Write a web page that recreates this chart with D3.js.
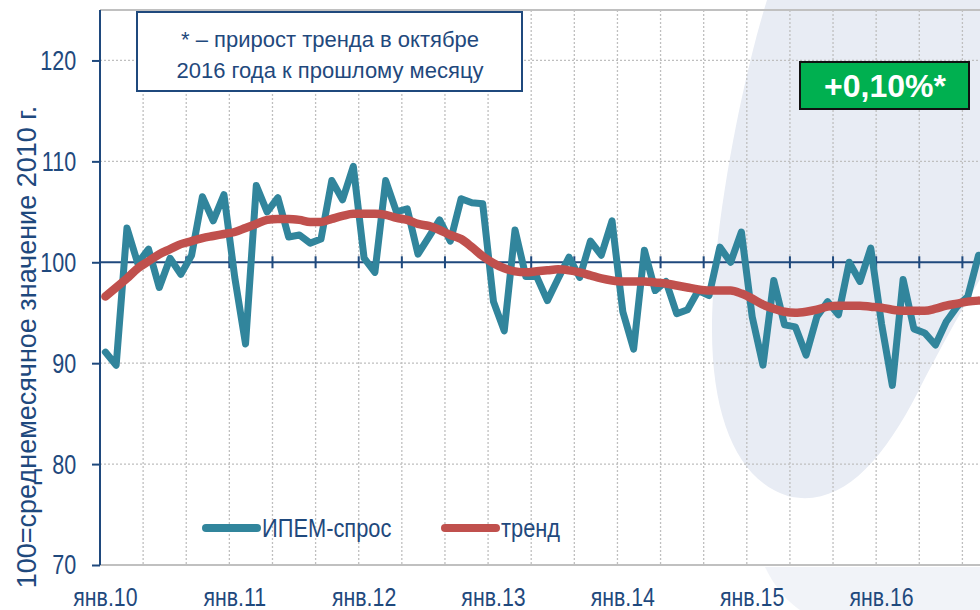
<!DOCTYPE html>
<html>
<head>
<meta charset="utf-8">
<script src="https://cdn.jsdelivr.net/npm/d3@7"></script>
<style>
  body { margin: 0; background: #fff; }
  text { font-family: "Liberation Sans", Arial, sans-serif; fill: #1f497d; }
</style>
</head>
<body>
<svg id="chart" width="980" height="610"></svg>
<script>
// months 01.2010 - 10.2016
const monthNames = ['янв', 'фев', 'мар', 'апр', 'май', 'июн', 'июл', 'авг', 'сен', 'окт', 'ноя', 'дек'];
const months = [];
for (let yr = 10; yr <= 16; yr++) {
  for (let m = 0; m < 12; m++) {
    if (yr === 16 && m > 9) break;
    months.push(monthNames[m] + '.' + yr);
  }
}

// ИПЕМ-спрос
const demand = [
  91.1, 89.8, 103.4, 99.9, 101.3, 97.5, 100.4, 98.8, 100.7, 106.5, 104.1, 106.7,
  98.5, 91.9, 107.6, 105.0, 106.4, 102.5, 102.7, 101.9, 102.3, 108.1, 106.2, 109.5,
  100.4, 99.0, 108.1, 105.0, 105.3, 100.8, 102.5, 104.2, 102.1, 106.3, 105.9, 105.8,
  96.1, 93.2, 103.2, 98.6, 98.6, 96.2, 98.4, 100.5, 98.5, 102.1, 100.7, 104.1,
  95.1, 91.4, 101.2, 97.2, 98.1, 94.9, 95.3, 97.2, 96.7, 101.5, 100.0, 103.0,
  94.6, 89.8, 98.2, 93.8, 93.6, 90.8, 94.6, 96.1, 94.8, 100.0, 98.1, 101.4,
  93.9, 87.8, 98.3, 93.4, 93.0, 91.8, 94.1, 95.6, 96.6, 100.7
];

// тренд
const trend = [
  96.6, 97.5, 98.4, 99.4, 100.1, 100.8, 101.3, 101.8, 102.1, 102.4, 102.6, 102.8,
  103.0, 103.4, 103.8, 104.2, 104.3, 104.3, 104.2, 104.0, 104.0, 104.3, 104.6, 104.8,
  104.8, 104.8, 104.7, 104.4, 104.2, 103.8, 103.6, 103.2, 102.7, 102.3, 101.5, 100.6,
  99.9, 99.4, 99.1, 99.0, 99.1, 99.2, 99.3, 99.2, 99.0, 98.7, 98.4, 98.2,
  98.1, 98.1, 98.1, 98.0, 97.9, 97.7, 97.5, 97.3, 97.2, 97.2, 97.2, 96.9,
  96.4, 95.8, 95.4, 95.1, 95.0, 95.1, 95.3, 95.6, 95.7, 95.7, 95.7, 95.6,
  95.5, 95.3, 95.2, 95.2, 95.2, 95.4, 95.7, 95.9, 96.1, 96.2
];

const yTicks = [70, 80, 90, 100, 110, 120];
const seriesNames = ['ИПЕМ-спрос', 'тренд'];
const noteLines = ['* – прирост тренда в октябре', '2016 года к прошлому месяцу'];
const badge = '+0,10%*';

const svg = d3.select('#chart');
const plotLeft = 100, plotTop = 10, plotBottom = 565;
const step = 10.78;

const x = d3.scaleBand()
  .domain(months)
  .range([plotLeft, plotLeft + months.length * step])
  .padding(0);

const y = d3.scaleLinear()
  .domain([70, 125])
  .range([plotBottom, plotTop]);

const teal = '#31859c';
const red = '#c0504d';
const navy = '#1f497d';

// watermark in the background
svg.append('path')
   .attr('d', 'M767,0 C742,80 712,230 712,330 C712,425 742,485 792,497 C842,506 882,462 918,392 C945,338 968,300 990,262 L990,0 Z')
   .attr('fill', '#e8ecf4');
svg.append('path')
   .attr('d', 'M765,567 C775,588 788,602 800,610 L980,610 L980,567 Z')
   .attr('fill', '#f1f3f8');

// grid
const gridX = months.filter((d, i) => i > 0 && i % 4 === 0);
svg.append('g')
   .selectAll('line')
   .data(gridX)
   .join('line')
   .attr('x1', d => x(d)).attr('x2', d => x(d))
   .attr('y1', plotTop).attr('y2', plotBottom)
   .attr('stroke', '#bfbfbf')
   .attr('stroke-width', 1.3)
   .attr('stroke-dasharray', '2,2');

svg.append('g')
   .selectAll('line')
   .data(yTicks.filter(d => d !== 70 && d !== 100))
   .join('line')
   .attr('x1', plotLeft).attr('x2', 980)
   .attr('y1', d => y(d)).attr('y2', d => y(d))
   .attr('stroke', '#bfbfbf')
   .attr('stroke-width', 1.3)
   .attr('stroke-dasharray', '2,2');

// frame top and bottom
svg.append('line')
   .attr('x1', plotLeft).attr('x2', 980)
   .attr('y1', plotTop).attr('y2', plotTop)
   .attr('stroke', '#c0c0c0').attr('stroke-width', 2);
svg.append('line')
   .attr('x1', plotLeft).attr('x2', 980)
   .attr('y1', plotBottom).attr('y2', plotBottom)
   .attr('stroke', '#c0c0c0').attr('stroke-width', 2);

// x axis through 100
svg.append('line')
   .attr('x1', plotLeft).attr('x2', 980)
   .attr('y1', y(100)).attr('y2', y(100))
   .attr('stroke', navy).attr('stroke-width', 2);
svg.append('g')
   .selectAll('line')
   .data(gridX)
   .join('line')
   .attr('x1', d => x(d)).attr('x2', d => x(d))
   .attr('y1', y(100) - 6).attr('y2', y(100) + 6)
   .attr('stroke', navy).attr('stroke-width', 2);

// y axis
const yAxis = d3.axisLeft(y)
  .tickValues(yTicks)
  .tickSize(8);

const yG = svg.append('g')
   .attr('transform', 'translate(' + plotLeft + ', 0)')
   .call(yAxis)
   .attr('font-family', null)
   .attr('font-size', null);
yG.select('.domain').remove();
yG.append('line')
   .attr('x1', 0).attr('x2', 0)
   .attr('y1', plotTop).attr('y2', plotBottom)
   .attr('stroke', navy).attr('stroke-width', 2);
yG.selectAll('.tick line').attr('stroke', navy).attr('stroke-width', 2);
// narrow numbers like in the original
yG.selectAll('.tick text')
  .attr('font-size', 28)
  .attr('fill', navy)
  .attr('x', -31)
  .attr('transform', 'scale(0.77, 1)');

// x labels
const xAxis = d3.axisBottom(x)
  .tickValues(months.filter((d, i) => i % 12 === 0))
  .tickSize(0)
  .tickPadding(23);

const xG = svg.append('g')
   .attr('transform', 'translate(0, ' + plotBottom + ')')
   .call(xAxis)
   .attr('font-family', null)
   .attr('font-size', null);
xG.select('.domain').remove();
xG.selectAll('.tick text')
  .attr('font-size', 26)
  .attr('fill', navy)
  .attr('transform', 'scale(0.82, 1)');

// axis title
svg.append('text')
   .attr('transform', 'translate(36, 347) rotate(-90)')
   .attr('text-anchor', 'middle')
   .attr('font-size', 27)
   .text('100=среднемесячное значение 2010 г.');

// lines
const cx = d => x(d) + x.bandwidth() / 2;

const trendLine = d3.line()
  .x((d, i) => cx(months[i]))
  .y(d => y(d))
  .curve(d3.curveMonotoneX);

const demandLine = d3.line()
  .x((d, i) => cx(months[i]))
  .y(d => y(d));

svg.append('path')
   .datum(demand)
   .attr('d', demandLine)
   .attr('fill', 'none')
   .attr('stroke', teal)
   .attr('stroke-width', 7)
   .attr('stroke-linejoin', 'round')
   .attr('stroke-linecap', 'round');

svg.append('path')
   .datum(trend)
   .attr('d', trendLine)
   .attr('fill', 'none')
   .attr('stroke', red)
   .attr('stroke-width', 8.5)
   .attr('stroke-linecap', 'round');

// legend
const legend = [
  { name: seriesNames[0], color: teal, x: 206 },
  { name: seriesNames[1], color: red, x: 445 }
];
const lg = svg.append('g').selectAll('g').data(legend).join('g')
   .attr('transform', d => 'translate(' + d.x + ', 528)');
lg.append('line')
  .attr('x1', 0).attr('x2', 51)
  .attr('stroke', d => d.color)
  .attr('stroke-width', 8)
  .attr('stroke-linecap', 'round');
lg.append('text')
  .attr('transform', 'translate(56, 9) scale(0.84, 1)')
  .attr('font-size', 26)
  .text(d => d.name);

// note box
svg.append('rect')
   .attr('x', 137).attr('y', 12)
   .attr('width', 385).attr('height', 79)
   .attr('fill', '#fff')
   .attr('stroke', navy)
   .attr('stroke-width', 2);
svg.append('g').selectAll('text').data(noteLines).join('text')
   .attr('x', 330)
   .attr('y', (d, i) => 47 + i * 31)
   .attr('text-anchor', 'middle')
   .attr('font-size', 22)
   .text(d => d);

// badge
svg.append('rect')
   .attr('x', 800).attr('y', 62)
   .attr('width', 169).attr('height', 47)
   .attr('fill', '#00b050')
   .attr('stroke', '#111')
   .attr('stroke-width', 2);
svg.append('text')
   .attr('x', 885).attr('y', 97)
   .attr('text-anchor', 'middle')
   .attr('font-size', 32)
   .attr('font-weight', 'bold')
   .style('fill', '#fff')
   .text(badge);
</script>
</body>
</html>
